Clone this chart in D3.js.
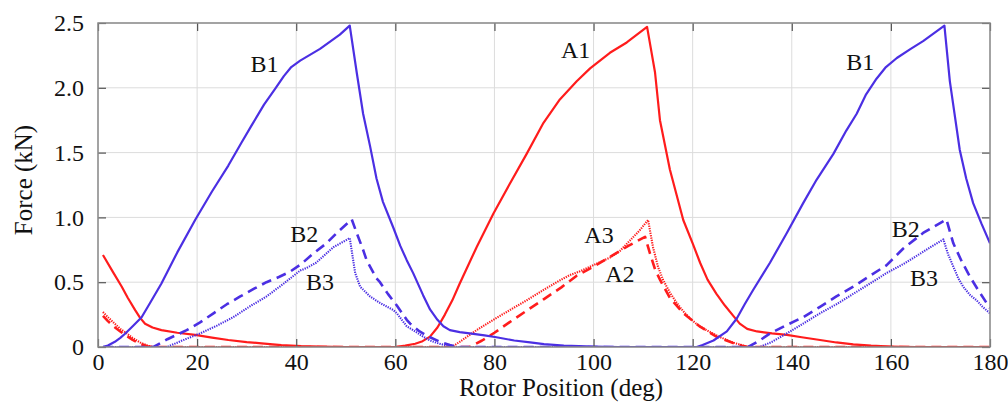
<!DOCTYPE html>
<html><head><meta charset="utf-8">
<script src="https://cdn.jsdelivr.net/npm/d3@7"></script>
<style>body{margin:0;background:#fff}</style>
</head><body>
<svg id="chart" width="1008" height="407"></svg>
<script>
// ---- data (deg, kN) ----
const xTicks = [0,20,40,60,80,100,120,140,160,180];
const yTicks = [0,0.5,1.0,1.5,2.0,2.5];
const yTickLabels = ["0","0.5","1.0","1.5","2.0","2.5"];
const xTitle = "Rotor Position (deg)";
const yTitle = "Force (kN)";

const A1 = [[1,0.71],[3,0.58],[4.8,0.465],[6,0.38],[7.5,0.285],[8.5,0.225],[9.5,0.18],[11,0.15],[12.8,0.13],[16,0.11],[19.6,0.093],[23,0.072],[26.3,0.054],[30,0.038],[33,0.028],[37,0.015],[41,0.007],[45,0.003],[50,0],[60,0],[62,0.01],[64,0.025],[65.5,0.045],[67,0.08],[68.5,0.15],[70,0.25],[71.5,0.36],[73,0.49],[76.4,0.77],[79.8,1.03],[83.1,1.26],[86.5,1.49],[89.9,1.73],[93.2,1.91],[96.6,2.05],[99.3,2.15],[103.3,2.27],[106.7,2.35],[110.8,2.47],[112.4,2.12],[113.4,1.75],[115.4,1.37],[118.1,0.98],[120,0.8],[121.5,0.65],[123,0.52],[124.8,0.41],[126.5,0.32],[128.2,0.24],[129.5,0.18],[131,0.14],[133,0.12],[136,0.105],[139,0.093],[142,0.075],[145.7,0.054],[149,0.035],[152.4,0.02],[156,0.01],[160,0.004],[165,0],[180,0]];
const A2 = [[1,0.24],[2,0.2],[3.1,0.16],[4.5,0.12],[5.8,0.085],[7,0.055],[8.5,0.025],[10,0.005],[11,0],[75,0],[77.5,0.05],[80,0.11],[83,0.19],[86.5,0.28],[90,0.37],[93.5,0.46],[96.6,0.55],[100,0.62],[103.5,0.7],[107,0.78],[110.4,0.85],[111.4,0.72],[112.4,0.6],[113.4,0.52],[115.4,0.38],[118.1,0.26],[121.5,0.157],[124.8,0.08],[128.2,0.03],[130,0.01],[131,0],[180,0]];
const A3 = [[1,0.27],[2,0.23],[3.1,0.19],[4.5,0.14],[5.8,0.105],[7,0.07],[8.5,0.035],[10,0.01],[11.5,0],[71.4,0],[73,0.04],[76.4,0.13],[79.8,0.21],[83.1,0.285],[86.5,0.36],[89.9,0.44],[93,0.51],[95.2,0.555],[97,0.58],[99.3,0.62],[101,0.65],[103.3,0.69],[105.3,0.74],[107.3,0.82],[109.3,0.9],[111,0.98],[112,0.77],[113,0.62],[114,0.52],[115.4,0.42],[116.8,0.34],[118,0.28],[119.5,0.22],[121,0.17],[122.8,0.13],[125,0.085],[126.9,0.054],[128.5,0.03],[130.2,0.012],[131.5,0],[180,0]];
const B1 = [[1,0],[2,0.012],[3.4,0.04],[4.5,0.07],[5.4,0.1],[7,0.16],[8.8,0.23],[10.5,0.34],[12.8,0.49],[16,0.73],[19.6,0.98],[23,1.2],[26.3,1.4],[29,1.58],[31,1.71],[33.5,1.87],[35.7,1.99],[37.5,2.09],[39,2.16],[40.8,2.21],[44.8,2.3],[48.8,2.41],[50.8,2.48],[52.2,2.12],[53.5,1.8],[54.9,1.55],[56.2,1.3],[57.5,1.12],[59.6,0.92],[61,0.78],[62.3,0.67],[63.6,0.57],[65.6,0.4],[67,0.29],[68.5,0.21],[69.7,0.16],[71,0.13],[73,0.115],[75,0.105],[78,0.09],[80.4,0.075],[84,0.05],[87.2,0.035],[90,0.022],[94,0.01],[100,0.003],[105,0],[120.8,0],[122,0.015],[124.2,0.05],[126.9,0.12],[128.9,0.22],[130.5,0.33],[132.2,0.44],[135.6,0.65],[139,0.88],[142.3,1.11],[145,1.29],[148.4,1.49],[151,1.67],[153.1,1.8],[155,1.95],[157.1,2.07],[159,2.16],[161.2,2.23],[164,2.3],[166.5,2.36],[170.8,2.48],[171.9,2.05],[173.9,1.52],[175.2,1.3],[176.6,1.11],[178.3,0.95],[180,0.8]];
const B2 = [[1,0],[11.2,0],[14,0.06],[17.9,0.13],[20.6,0.19],[23.3,0.26],[26,0.33],[28.7,0.39],[31.5,0.45],[34,0.5],[36.5,0.54],[38.7,0.58],[41,0.64],[43.4,0.72],[46.1,0.8],[48.2,0.88],[51.2,0.985],[52.2,0.88],[53.5,0.75],[54.2,0.67],[56.2,0.53],[56.9,0.5],[58.5,0.41],[60.3,0.32],[62.3,0.21],[63,0.18],[64.9,0.12],[67,0.075],[69,0.04],[71,0.015],[72.5,0],[131.2,0],[133.5,0.05],[135.6,0.105],[139,0.17],[142.3,0.23],[145.7,0.31],[149,0.39],[152.4,0.465],[155.8,0.55],[159.1,0.63],[162.5,0.76],[166.5,0.88],[171.2,0.985],[172.6,0.8],[174.3,0.66],[176,0.54],[177.6,0.44],[179.3,0.34],[180,0.3]];
const B3 = [[1,0],[13.9,0],[17,0.05],[20.6,0.105],[24,0.165],[27.3,0.23],[30.5,0.31],[34,0.39],[37.5,0.49],[40.8,0.59],[42.1,0.61],[44,0.65],[47.5,0.77],[50.8,0.84],[51.9,0.57],[52.9,0.465],[54.9,0.39],[56.9,0.34],[59.6,0.285],[60.3,0.26],[62.3,0.16],[63.6,0.13],[65.6,0.08],[67,0.05],[68.5,0.03],[70.4,0.01],[72,0],[133.6,0],[136,0.04],[139,0.105],[142.3,0.18],[145.7,0.26],[149,0.33],[152.4,0.41],[155.8,0.49],[159.1,0.57],[162.5,0.64],[165.9,0.72],[168,0.77],[170.6,0.83],[171.5,0.72],[172.6,0.62],[173.6,0.53],[174.6,0.465],[176,0.4],[177.3,0.36],[178.5,0.31],[180,0.26]];

const seriesNames = ["A1","A2","A3","B1","B2","B3"];
const seriesData = [A1,A2,A3,B1,B2,B3];

// curve labels: text, position in data units
const labelNames = ["B1","A1","B1","B2","B3","A3","A2","B2","B3"];
const labelX = [33.6, 96.4, 153.8, 41.6, 44.8, 101.1, 105.3, 163.0, 166.7];
const labelY = [2.12, 2.23, 2.14, 0.81, 0.44, 0.80, 0.50, 0.85, 0.47];

// ---- styles ----
const RED = "#ff1c1c", BLUE = "#4b2fe3";
const styles = {
  A1:{c:RED,w:2.2,d:null}, A2:{c:RED,w:2.6,d:"10,6"}, A3:{c:RED,w:2.1,d:"1.3,1.1"},
  B1:{c:BLUE,w:2.2,d:null}, B2:{c:BLUE,w:2.6,d:"10,6"}, B3:{c:BLUE,w:2.1,d:"1.3,1.1"}
};

const W = 1008, H = 407;
const m = {l:98, r:18, t:23, b:60};
const svg = d3.select("#chart");
const x = d3.scaleLinear().domain([0,180]).range([m.l, W-m.r]);
const y = d3.scaleLinear().domain([0,2.5]).range([H-m.b, m.t]);
const font = "'Liberation Serif','Times New Roman',serif";

// grid
const g = svg.append("g");
g.selectAll(".gx").data(xTicks).join("line")
  .attr("x1",d=>x(d)).attr("x2",d=>x(d)).attr("y1",m.t).attr("y2",H-m.b)
  .attr("stroke","#dcdcdc").attr("stroke-width",1);
g.selectAll(".gy").data(yTicks).join("line")
  .attr("y1",d=>y(d)).attr("y2",d=>y(d)).attr("x1",m.l).attr("x2",W-m.r)
  .attr("stroke","#dcdcdc").attr("stroke-width",1);

// lines
svg.append("clipPath").attr("id","clip").append("rect")
  .attr("x",m.l).attr("y",m.t-4).attr("width",W-m.l-m.r).attr("height",H-m.t-m.b+4);
const line = d3.line().x(d=>x(d[0])).y(d=>y(d[1]));
const lg = svg.append("g").attr("clip-path","url(#clip)");
seriesNames.forEach((n,i)=>{
  const s = styles[n];
  lg.append("path").datum(seriesData[i]).attr("d",line)
    .attr("fill","none").attr("stroke",s.c).attr("stroke-width",s.w)
    .attr("stroke-dasharray",s.d).attr("stroke-linejoin","round");
});

// axes
function style(sel){
  sel.select(".domain").remove();
  sel.selectAll(".tick line").attr("stroke","#555").attr("stroke-width",1.2);
  sel.selectAll(".tick text").attr("font-family",font).attr("font-size",24).attr("fill","#111");
}
svg.append("g").attr("transform",`translate(0,${H-m.b})`)
  .call(d3.axisBottom(x).tickValues(xTicks).tickSize(-8).tickPadding(6)).call(style);
svg.append("g").attr("transform",`translate(${m.l},0)`)
  .call(d3.axisLeft(y).tickValues(yTicks).tickFormat((d,i)=>yTickLabels[i]).tickSize(-8).tickPadding(14)).call(style);
svg.append("g").attr("transform",`translate(0,${m.t})`)
  .call(d3.axisTop(x).tickValues(xTicks).tickSize(-8).tickFormat("")).call(style);
svg.append("g").attr("transform",`translate(${W-m.r},0)`)
  .call(d3.axisRight(y).tickValues(yTicks).tickSize(-8).tickFormat("")).call(style);

// frame
svg.append("rect").attr("x",m.l).attr("y",m.t).attr("width",W-m.l-m.r).attr("height",H-m.t-m.b)
  .attr("fill","none").attr("stroke","#8a8a8a").attr("stroke-width",1.5);

// curve labels
svg.append("g").selectAll("text").data(labelNames).join("text")
  .attr("x",(d,i)=>x(labelX[i])).attr("y",(d,i)=>y(labelY[i]))
  .attr("text-anchor","middle").attr("font-family",font).attr("font-size",24).attr("fill","#111")
  .text(d=>d);

// titles
svg.append("text").attr("x",561).attr("y",396).attr("text-anchor","middle")
  .attr("font-family",font).attr("font-size",25).attr("fill","#111").text(xTitle);
svg.append("text").attr("transform","translate(32,180) rotate(-90)").attr("text-anchor","middle")
  .attr("font-family",font).attr("font-size",25).attr("fill","#111").text(yTitle);
</script>
</body></html>
